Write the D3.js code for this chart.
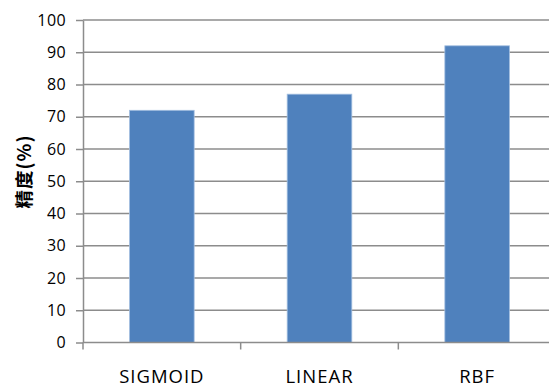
<!DOCTYPE html>
<html>
<head>
<meta charset="utf-8">
<script src="https://cdn.jsdelivr.net/npm/d3@7"></script>
<style>
  html, body { margin: 0; padding: 0; background: #fff; }
  svg { display: block; }
</style>
</head>
<body>
<svg id="chart" width="549" height="387"></svg>
<script>
// Kernel accuracy comparison
const categories = ["SIGMOID", "LINEAR", "RBF"];
const accuracy = [72, 77, 92];
const yTicks = [0, 10, 20, 30, 40, 50, 60, 70, 80, 90, 100];
const yTitle = "精度(%)";

const svg = d3.select("#chart");
const plotLeft = 83, plotTop = 20, plotBottom = 342.5, plotRight = 556;
const font = "'Open Sans', 'Liberation Sans', sans-serif";

const x = d3.scaleBand().domain(categories).range([plotLeft, plotRight]).paddingInner(0.59).paddingOuter(0.295);
const xBand = d3.scaleBand().domain(categories).range([plotLeft, plotRight]);
const y = d3.scaleLinear().domain([0, 100]).range([plotBottom, plotTop]);

// horizontal gridlines
svg.append("g")
  .selectAll("line")
  .data(yTicks.filter(d => d > 0))
  .join("line")
  .attr("x1", plotLeft).attr("x2", 549)
  .attr("y1", d => y(d)).attr("y2", d => y(d))
  .attr("stroke", "#8c8c8c").attr("stroke-width", 1.5);

// bars
svg.append("g")
  .selectAll("rect")
  .data(accuracy)
  .join("rect")
  .attr("x", (d, i) => x(categories[i]))
  .attr("width", x.bandwidth())
  .attr("y", d => y(d))
  .attr("height", d => y(0) - y(d))
  .attr("fill", "#4f81bd")
  .attr("stroke", "#a3bfe0")
  .attr("stroke-width", 0.8);

// y axis
const yAxis = svg.append("g")
  .attr("transform", `translate(${plotLeft},0)`)
  .call(d3.axisLeft(y).tickValues(yTicks).tickSize(7).tickSizeOuter(0).tickPadding(10));
yAxis.select(".domain").attr("stroke", "#8c8c8c").attr("stroke-width", 1.5);
yAxis.selectAll(".tick line").attr("stroke", "#8c8c8c").attr("stroke-width", 1.5);
yAxis.selectAll(".tick text")
  .attr("font-family", font).attr("font-size", 16).attr("letter-spacing", 0.4).attr("fill", "#000");

// x axis with ticks on category boundaries
const boundaries = categories.map(c => xBand(c)).concat([plotRight]);
const xAxis = svg.append("g").attr("transform", `translate(0,${plotBottom})`);
xAxis.append("line")
  .attr("x1", plotLeft).attr("x2", 549)
  .attr("stroke", "#8c8c8c").attr("stroke-width", 1.5);
xAxis.selectAll("line.tk")
  .data(boundaries)
  .join("line")
  .attr("class", "tk")
  .attr("x1", d => d).attr("x2", d => d)
  .attr("y1", 0).attr("y2", 7)
  .attr("stroke", "#8c8c8c").attr("stroke-width", 1.5);
xAxis.selectAll("text")
  .data(categories)
  .join("text")
  .attr("x", d => xBand(d) + xBand.bandwidth() / 2)
  .attr("y", 40.5)
  .attr("text-anchor", "middle")
  .attr("font-family", font).attr("font-size", 18.5).attr("letter-spacing", 1)
  .attr("fill", "#000")
  .text(d => d);

// y axis title
svg.append("text")
  .attr("transform", "translate(31,171.5) rotate(-90)")
  .attr("text-anchor", "middle")
  .attr("font-family", "'Noto Sans CJK SC', sans-serif")
  .attr("font-weight", "bold")
  .attr("font-size", 18.5)
  .attr("letter-spacing", 1)
  .attr("fill", "#000")
  .text(yTitle);
</script>
</body>
</html>
